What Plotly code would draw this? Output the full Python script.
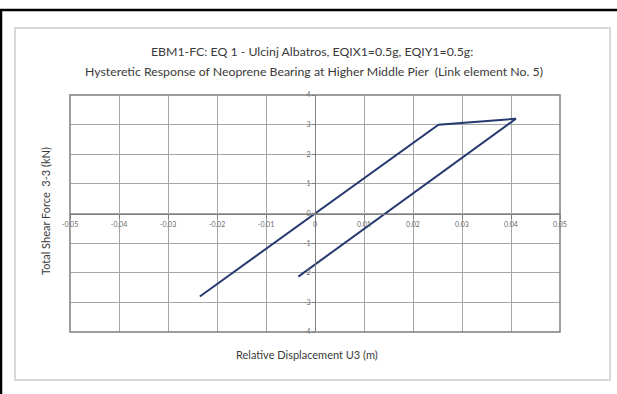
import plotly.graph_objects as go

# Hysteresis loop: relative displacement U3 (m) vs total shear force 3-3 (kN)
disp_u3 = [-0.0235, 0.0252, 0.041, -0.0034]
shear_33 = [-2.8, 3.0, 3.2, -2.13]

x_ticks = [-0.05, -0.04, -0.03, -0.02, -0.01, 0, 0.01, 0.02, 0.03, 0.04, 0.05]
x_tick_text = ["-0.05", "-0.04", "-0.03", "-0.02", "-0.01", "0", "0.01", "0.02", "0.03", "0.04", "0.05"]
y_ticks = [-4, -3, -2, -1, 0, 1, 2, 3, 4]
y_tick_text = ["-4", "-3", "-2", "-1", "0", "1", "2", "3", "4"]

W, H = 617, 394


def px(x):
    return x / W


def py(y):
    return 1 - y / H


x_dom = [px(70), px(560)]
y_dom = [py(332), py(95)]

fig = go.Figure()
fig.add_trace(go.Scatter(
    x=disp_u3, y=shear_33, mode="lines",
    line=dict(color="#263a70", width=2),
    showlegend=False, hoverinfo="x+y",
))

tick_font = dict(family="Lato, Open Sans, sans-serif", size=7, color="#6a6a6a")
title_font = dict(family="Lato, sans-serif", size=12.3, color="#3a3a3a")

fig.update_layout(
    width=W, height=H,
    margin=dict(l=0, r=0, t=0, b=0),
    paper_bgcolor="white", plot_bgcolor="white",
    xaxis=dict(
        domain=x_dom, range=[-0.05, 0.05],
        tickvals=x_ticks, ticktext=x_tick_text,
        showgrid=True, gridcolor="#a6a6a6", gridwidth=1,
        zeroline=False,
        showline=True, linecolor="#808080", linewidth=1,
        anchor="free", position=(y_dom[0] + y_dom[1]) / 2,
        ticks="outside", ticklen=4, tickcolor="#808080",
        tickfont=tick_font, automargin=False, fixedrange=True,
    ),
    yaxis=dict(
        domain=y_dom, range=[-4, 4],
        tickvals=y_ticks, ticktext=y_tick_text,
        showgrid=True, gridcolor="#a6a6a6", gridwidth=1,
        zeroline=False,
        showline=True, linecolor="#808080", linewidth=1,
        anchor="free", position=(x_dom[0] + x_dom[1]) / 2,
        ticks="outside", ticklen=3, tickcolor="#808080",
        tickfont=tick_font, automargin=False, fixedrange=True,
    ),
    shapes=[
        # plot-area frame
        dict(type="rect", xref="x domain", yref="y domain", x0=0, x1=1, y0=0, y1=1,
             line=dict(color="#7f7f7f", width=1.5), layer="above"),
        # chart-area frame
        dict(type="rect", xref="paper", yref="paper",
             x0=px(15), x1=px(610), y0=py(380), y1=py(28),
             line=dict(color="#d9d9d9", width=2), layer="below"),
        # page edges
        dict(type="line", xref="paper", yref="paper",
             x0=0, x1=1, y0=py(10), y1=py(10), line=dict(color="black", width=2.5)),
        dict(type="line", xref="paper", yref="paper",
             x0=px(1), x1=px(1), y0=py(10), y1=0, line=dict(color="black", width=2.5)),
    ],
    annotations=[
        dict(xref="paper", yref="paper", x=px(312), y=py(52), xanchor="center", yanchor="middle",
             text="EBM1-FC: EQ 1 - Ulcinj Albatros, EQIX1=0.5g, EQIY1=0.5g:",
             showarrow=False, font=title_font),
        dict(xref="paper", yref="paper", x=px(314), y=py(71), xanchor="center", yanchor="middle",
             text="Hysteretic Response of Neoprene Bearing at Higher Middle Pier  (Link element No. 5)",
             showarrow=False, font=title_font),
        dict(xref="paper", yref="paper", x=px(307), y=py(354), xanchor="center", yanchor="middle",
             text="Relative Displacement U3 (m)",
             showarrow=False, font=dict(family="Lato, sans-serif", size=11, color="#3a3a3a")),
        dict(xref="paper", yref="paper", x=px(45), y=py(211), xanchor="center", yanchor="middle",
             text="Total Shear Force  3-3 (kN)", textangle=-90,
             showarrow=False, font=dict(family="Lato, sans-serif", size=11, color="#3a3a3a")),
    ],
)

fig.write_html("out.html")
